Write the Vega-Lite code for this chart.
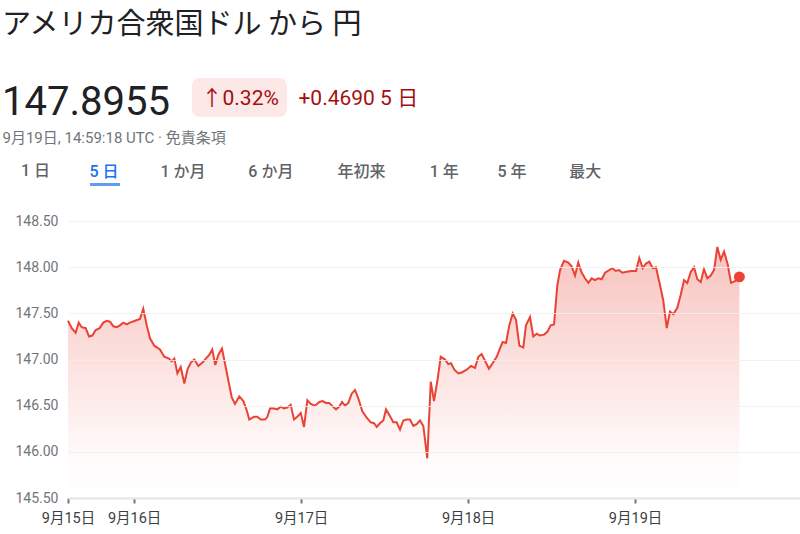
{
  "$schema": "https://vega.github.io/schema/vega-lite/v6.json",
  "width": 732,
  "height": 300,
  "autosize": {"type": "none"},
  "padding": {"left": 68, "top": 198, "right": 0, "bottom": 36},
  "background": "#ffffff",
  "title": {
    "text": "アメリカ合衆国ドル から 円",
    "subtitle": "147.8955",
    "anchor": "start",
    "frame": "bounds",
    "orient": "top",
    "font": "Noto Sans CJK JP",
    "fontSize": 29,
    "fontWeight": 400,
    "color": "#202124",
    "subtitleFont": "Roboto",
    "subtitleFontSize": 40,
    "subtitleFontWeight": 400,
    "subtitleColor": "#202124",
    "subtitlePadding": 43,
    "offset": -72.5
  },
  "datasets": {
    "fx": [
      {"t": "2025-09-15T14:30:00Z", "v": 147.42},
      {"t": "2025-09-15T15:02:00Z", "v": 147.34},
      {"t": "2025-09-15T15:36:00Z", "v": 147.29},
      {"t": "2025-09-15T16:02:00Z", "v": 147.40},
      {"t": "2025-09-15T16:28:00Z", "v": 147.35},
      {"t": "2025-09-15T17:03:00Z", "v": 147.34},
      {"t": "2025-09-15T17:31:00Z", "v": 147.25},
      {"t": "2025-09-15T18:00:00Z", "v": 147.26},
      {"t": "2025-09-15T18:29:00Z", "v": 147.32},
      {"t": "2025-09-15T19:03:00Z", "v": 147.34},
      {"t": "2025-09-15T19:34:00Z", "v": 147.40},
      {"t": "2025-09-15T20:04:00Z", "v": 147.42},
      {"t": "2025-09-15T20:32:00Z", "v": 147.41},
      {"t": "2025-09-15T21:01:00Z", "v": 147.36},
      {"t": "2025-09-15T21:30:00Z", "v": 147.35},
      {"t": "2025-09-15T21:58:00Z", "v": 147.37},
      {"t": "2025-09-15T22:27:00Z", "v": 147.40},
      {"t": "2025-09-15T22:56:00Z", "v": 147.38},
      {"t": "2025-09-15T23:25:00Z", "v": 147.40},
      {"t": "2025-09-16T00:08:00Z", "v": 147.42},
      {"t": "2025-09-16T00:51:00Z", "v": 147.44},
      {"t": "2025-09-16T01:19:00Z", "v": 147.55},
      {"t": "2025-09-16T01:49:00Z", "v": 147.37},
      {"t": "2025-09-16T02:17:00Z", "v": 147.23},
      {"t": "2025-09-16T02:54:00Z", "v": 147.15},
      {"t": "2025-09-16T03:43:00Z", "v": 147.11},
      {"t": "2025-09-16T04:20:00Z", "v": 147.03},
      {"t": "2025-09-16T05:01:00Z", "v": 147.01},
      {"t": "2025-09-16T05:24:00Z", "v": 146.98},
      {"t": "2025-09-16T05:47:00Z", "v": 147.01},
      {"t": "2025-09-16T06:13:00Z", "v": 146.85},
      {"t": "2025-09-16T06:42:00Z", "v": 146.92},
      {"t": "2025-09-16T07:13:00Z", "v": 146.74},
      {"t": "2025-09-16T07:42:00Z", "v": 146.90},
      {"t": "2025-09-16T08:11:00Z", "v": 146.97},
      {"t": "2025-09-16T08:39:00Z", "v": 147.00},
      {"t": "2025-09-16T09:14:00Z", "v": 146.93},
      {"t": "2025-09-16T09:52:00Z", "v": 146.97},
      {"t": "2025-09-16T10:26:00Z", "v": 147.02},
      {"t": "2025-09-16T10:48:00Z", "v": 147.05},
      {"t": "2025-09-16T11:14:00Z", "v": 147.11},
      {"t": "2025-09-16T11:40:00Z", "v": 146.94},
      {"t": "2025-09-16T12:06:00Z", "v": 147.05},
      {"t": "2025-09-16T12:38:00Z", "v": 147.12},
      {"t": "2025-09-16T13:19:00Z", "v": 146.86},
      {"t": "2025-09-16T14:02:00Z", "v": 146.59},
      {"t": "2025-09-16T14:30:00Z", "v": 146.52},
      {"t": "2025-09-16T15:07:00Z", "v": 146.60},
      {"t": "2025-09-16T15:42:00Z", "v": 146.55},
      {"t": "2025-09-16T16:11:00Z", "v": 146.45},
      {"t": "2025-09-16T16:33:00Z", "v": 146.35},
      {"t": "2025-09-16T17:14:00Z", "v": 146.38},
      {"t": "2025-09-16T17:42:00Z", "v": 146.38},
      {"t": "2025-09-16T18:12:00Z", "v": 146.35},
      {"t": "2025-09-16T18:49:00Z", "v": 146.35},
      {"t": "2025-09-16T19:09:00Z", "v": 146.38},
      {"t": "2025-09-16T19:32:00Z", "v": 146.47},
      {"t": "2025-09-16T20:06:00Z", "v": 146.47},
      {"t": "2025-09-16T20:35:00Z", "v": 146.46},
      {"t": "2025-09-16T21:04:00Z", "v": 146.49},
      {"t": "2025-09-16T21:33:00Z", "v": 146.47},
      {"t": "2025-09-16T22:01:00Z", "v": 146.48},
      {"t": "2025-09-16T22:30:00Z", "v": 146.51},
      {"t": "2025-09-16T22:59:00Z", "v": 146.35},
      {"t": "2025-09-16T23:27:00Z", "v": 146.38},
      {"t": "2025-09-16T23:57:00Z", "v": 146.42},
      {"t": "2025-09-17T00:25:00Z", "v": 146.27},
      {"t": "2025-09-17T00:54:00Z", "v": 146.56},
      {"t": "2025-09-17T01:23:00Z", "v": 146.52},
      {"t": "2025-09-17T02:00:00Z", "v": 146.50},
      {"t": "2025-09-17T02:37:00Z", "v": 146.54},
      {"t": "2025-09-17T03:06:00Z", "v": 146.55},
      {"t": "2025-09-17T03:35:00Z", "v": 146.53},
      {"t": "2025-09-17T04:03:00Z", "v": 146.53},
      {"t": "2025-09-17T04:33:00Z", "v": 146.49},
      {"t": "2025-09-17T05:01:00Z", "v": 146.46},
      {"t": "2025-09-17T05:29:00Z", "v": 146.49},
      {"t": "2025-09-17T05:53:00Z", "v": 146.54},
      {"t": "2025-09-17T06:19:00Z", "v": 146.50},
      {"t": "2025-09-17T06:47:00Z", "v": 146.53},
      {"t": "2025-09-17T07:16:00Z", "v": 146.63},
      {"t": "2025-09-17T07:45:00Z", "v": 146.67},
      {"t": "2025-09-17T08:13:00Z", "v": 146.58},
      {"t": "2025-09-17T08:48:00Z", "v": 146.44},
      {"t": "2025-09-17T09:26:00Z", "v": 146.37},
      {"t": "2025-09-17T10:00:00Z", "v": 146.32},
      {"t": "2025-09-17T10:29:00Z", "v": 146.31},
      {"t": "2025-09-17T10:52:00Z", "v": 146.27},
      {"t": "2025-09-17T11:20:00Z", "v": 146.31},
      {"t": "2025-09-17T11:49:00Z", "v": 146.34},
      {"t": "2025-09-17T12:12:00Z", "v": 146.46},
      {"t": "2025-09-17T12:41:00Z", "v": 146.40},
      {"t": "2025-09-17T13:15:00Z", "v": 146.32},
      {"t": "2025-09-17T13:44:00Z", "v": 146.32},
      {"t": "2025-09-17T14:13:00Z", "v": 146.24},
      {"t": "2025-09-17T14:41:00Z", "v": 146.34},
      {"t": "2025-09-17T15:11:00Z", "v": 146.35},
      {"t": "2025-09-17T15:39:00Z", "v": 146.35},
      {"t": "2025-09-17T16:08:00Z", "v": 146.28},
      {"t": "2025-09-17T16:37:00Z", "v": 146.30},
      {"t": "2025-09-17T17:05:00Z", "v": 146.34},
      {"t": "2025-09-17T17:34:00Z", "v": 146.28},
      {"t": "2025-09-17T18:08:00Z", "v": 145.93},
      {"t": "2025-09-17T18:38:00Z", "v": 146.76},
      {"t": "2025-09-17T19:06:00Z", "v": 146.55},
      {"t": "2025-09-17T19:35:00Z", "v": 146.77},
      {"t": "2025-09-17T20:04:00Z", "v": 147.03},
      {"t": "2025-09-17T20:41:00Z", "v": 147.00},
      {"t": "2025-09-17T21:09:00Z", "v": 146.95},
      {"t": "2025-09-17T21:33:00Z", "v": 146.96},
      {"t": "2025-09-17T22:01:00Z", "v": 146.89},
      {"t": "2025-09-17T22:36:00Z", "v": 146.85},
      {"t": "2025-09-17T23:05:00Z", "v": 146.86},
      {"t": "2025-09-17T23:48:00Z", "v": 146.89},
      {"t": "2025-09-18T00:25:00Z", "v": 146.93},
      {"t": "2025-09-18T01:00:00Z", "v": 146.91},
      {"t": "2025-09-18T01:28:00Z", "v": 147.03},
      {"t": "2025-09-18T01:57:00Z", "v": 147.06},
      {"t": "2025-09-18T02:32:00Z", "v": 146.97},
      {"t": "2025-09-18T03:00:00Z", "v": 146.90},
      {"t": "2025-09-18T03:37:00Z", "v": 146.97},
      {"t": "2025-09-18T04:07:00Z", "v": 147.03},
      {"t": "2025-09-18T04:35:00Z", "v": 147.12},
      {"t": "2025-09-18T04:58:00Z", "v": 147.19},
      {"t": "2025-09-18T05:27:00Z", "v": 147.18},
      {"t": "2025-09-18T05:55:00Z", "v": 147.37},
      {"t": "2025-09-18T06:25:00Z", "v": 147.50},
      {"t": "2025-09-18T06:53:00Z", "v": 147.43},
      {"t": "2025-09-18T07:22:00Z", "v": 147.15},
      {"t": "2025-09-18T07:56:00Z", "v": 147.13},
      {"t": "2025-09-18T08:19:00Z", "v": 147.37},
      {"t": "2025-09-18T08:54:00Z", "v": 147.46},
      {"t": "2025-09-18T09:22:00Z", "v": 147.25},
      {"t": "2025-09-18T09:52:00Z", "v": 147.28},
      {"t": "2025-09-18T10:20:00Z", "v": 147.26},
      {"t": "2025-09-18T10:55:00Z", "v": 147.27},
      {"t": "2025-09-18T11:23:00Z", "v": 147.30},
      {"t": "2025-09-18T11:52:00Z", "v": 147.37},
      {"t": "2025-09-18T12:21:00Z", "v": 147.38},
      {"t": "2025-09-18T12:49:00Z", "v": 147.80},
      {"t": "2025-09-18T13:13:00Z", "v": 147.97},
      {"t": "2025-09-18T13:47:00Z", "v": 148.07},
      {"t": "2025-09-18T14:24:00Z", "v": 148.05},
      {"t": "2025-09-18T14:53:00Z", "v": 148.01},
      {"t": "2025-09-18T15:22:00Z", "v": 147.91},
      {"t": "2025-09-18T15:50:00Z", "v": 148.05},
      {"t": "2025-09-18T16:20:00Z", "v": 147.94},
      {"t": "2025-09-18T16:48:00Z", "v": 147.88},
      {"t": "2025-09-18T17:17:00Z", "v": 147.83},
      {"t": "2025-09-18T17:46:00Z", "v": 147.88},
      {"t": "2025-09-18T18:14:00Z", "v": 147.86},
      {"t": "2025-09-18T18:43:00Z", "v": 147.88},
      {"t": "2025-09-18T19:12:00Z", "v": 147.87},
      {"t": "2025-09-18T19:41:00Z", "v": 147.94},
      {"t": "2025-09-18T20:18:00Z", "v": 147.97},
      {"t": "2025-09-18T20:44:00Z", "v": 147.99},
      {"t": "2025-09-18T21:13:00Z", "v": 147.96},
      {"t": "2025-09-18T21:41:00Z", "v": 147.97},
      {"t": "2025-09-18T22:10:00Z", "v": 147.94},
      {"t": "2025-09-18T22:48:00Z", "v": 147.95},
      {"t": "2025-09-18T23:31:00Z", "v": 147.96},
      {"t": "2025-09-19T00:08:00Z", "v": 147.96},
      {"t": "2025-09-19T00:36:00Z", "v": 148.10},
      {"t": "2025-09-19T01:06:00Z", "v": 147.99},
      {"t": "2025-09-19T01:34:00Z", "v": 148.04},
      {"t": "2025-09-19T02:03:00Z", "v": 148.06},
      {"t": "2025-09-19T02:32:00Z", "v": 147.99},
      {"t": "2025-09-19T03:00:00Z", "v": 148.00},
      {"t": "2025-09-19T03:29:00Z", "v": 147.84},
      {"t": "2025-09-19T04:03:00Z", "v": 147.64},
      {"t": "2025-09-19T04:33:00Z", "v": 147.34},
      {"t": "2025-09-19T05:01:00Z", "v": 147.52},
      {"t": "2025-09-19T05:30:00Z", "v": 147.49},
      {"t": "2025-09-19T06:04:00Z", "v": 147.56},
      {"t": "2025-09-19T06:33:00Z", "v": 147.70},
      {"t": "2025-09-19T07:02:00Z", "v": 147.86},
      {"t": "2025-09-19T07:30:00Z", "v": 147.83},
      {"t": "2025-09-19T08:00:00Z", "v": 147.95},
      {"t": "2025-09-19T08:28:00Z", "v": 148.00},
      {"t": "2025-09-19T08:57:00Z", "v": 147.87},
      {"t": "2025-09-19T09:26:00Z", "v": 147.84},
      {"t": "2025-09-19T09:54:00Z", "v": 147.98},
      {"t": "2025-09-19T10:23:00Z", "v": 147.88},
      {"t": "2025-09-19T10:52:00Z", "v": 147.91},
      {"t": "2025-09-19T11:21:00Z", "v": 147.97},
      {"t": "2025-09-19T11:49:00Z", "v": 148.22},
      {"t": "2025-09-19T12:18:00Z", "v": 148.08},
      {"t": "2025-09-19T12:47:00Z", "v": 148.17},
      {"t": "2025-09-19T13:19:00Z", "v": 148.03},
      {"t": "2025-09-19T13:47:00Z", "v": 147.83},
      {"t": "2025-09-19T14:22:00Z", "v": 147.85},
      {"t": "2025-09-19T14:59:18Z", "v": 147.8955}
    ]
  },
  "data": {"name": "fx"},
  "layer": [
    {
      "encoding": {
        "x": {
          "field": "t",
          "type": "temporal",
          "scale": {
            "type": "utc",
            "domain": [
              {"year": 2025, "month": 9, "date": 15, "hours": 14, "minutes": 30, "utc": true},
              {"year": 2025, "month": 9, "date": 19, "hours": 23, "minutes": 42, "utc": true}
            ]
          },
          "axis": {
            "values": [
              {"year": 2025, "month": 9, "date": 15, "hours": 14, "minutes": 30, "utc": true},
              {"year": 2025, "month": 9, "date": 16, "utc": true},
              {"year": 2025, "month": 9, "date": 17, "utc": true},
              {"year": 2025, "month": 9, "date": 18, "utc": true},
              {"year": 2025, "month": 9, "date": 19, "utc": true}
            ],
            "labelExpr": "utcFormat(datum.value, '%-m') + '月' + utcFormat(datum.value, '%-d') + '日'",
            "labelFont": "Roboto, Noto Sans CJK JP",
            "labelFontSize": 14.5,
            "labelColor": "#3c4043",
            "labelPadding": 8.5,
            "labelOverlap": false,
            "labelFlush": false,
            "labelBound": false,
            "grid": false,
            "domain": true,
            "domainColor": "#dadce0",
            "domainWidth": 2,
            "ticks": true,
            "tickColor": "#70757a",
            "tickWidth": 2,
            "tickSize": 5,
            "title": "9月19日, 14:59:18 UTC · 免責条項",
            "titleX": -66,
            "titleY": -361,
            "titleAlign": "left",
            "titleBaseline": "middle",
            "titleAngle": 0,
            "titleFont": "Roboto, Noto Sans CJK JP",
            "titleFontSize": 15,
            "titleFontWeight": 400,
            "titleColor": "#70757a"
          }
        },
        "y": {
          "field": "v",
          "type": "quantitative",
          "scale": {"domain": [145.5, 148.75], "zero": false, "nice": false},
          "axis": {
            "zindex": 2,
            "values": [145.5, 146, 146.5, 147, 147.5, 148, 148.5],
            "format": ".2f",
            "ticks": false,
            "domain": false,
            "grid": true,
            "gridColor": "#eeeff1",
            "gridWidth": 1,
            "gridOpacity": 0.8,
            "labelFont": "Roboto",
            "labelFontSize": 14,
            "labelColor": "#70757a",
            "labelPadding": 10,
            "title": "↑0.32%\u2002\u2005\u2006+0.4690 5 日",
            "titleX": 133,
            "titleY": -100,
            "titleAlign": "left",
            "titleBaseline": "middle",
            "titleAngle": 0,
            "titleFont": "Roboto, Noto Sans CJK JP",
            "titleFontSize": 21,
            "titleFontWeight": 400,
            "titleColor": "#a50e0e"
          }
        }
      },
      "layer": [
        {
          "mark": {
            "type": "area",
            "line": false,
            "interpolate": "linear",
            "fill": {
              "gradient": "linear",
              "x1": 0, "y1": 0, "x2": 0, "y2": 1,
              "stops": [
                {"offset": 0, "color": "rgba(234,67,53,0.32)"},
                {"offset": 0.85, "color": "rgba(234,67,53,0.02)"},
                {"offset": 1, "color": "rgba(234,67,53,0)"}
              ]
            }
          },
          "encoding": {"y2": {"datum": 145.5}}
        },
        {
          "mark": {"type": "line", "color": "#ea4335", "strokeWidth": 2, "interpolate": "linear"}
        }
      ]
    },
    {
      "transform": [
        {"window": [{"op": "row_number", "as": "rn"}], "sort": [{"field": "t", "order": "descending"}]},
        {"filter": "datum.rn == 1"}
      ],
      "mark": {"type": "point", "filled": true, "shape": "circle", "size": 120, "opacity": 1},
      "encoding": {
        "color": {
          "datum": "1 日",
          "type": "nominal",
          "scale": {"range": ["#ea4335"]},
          "legend": {
            "orient": "none",
            "legendX": -63,
            "legendY": -35,
            "title": null,
            "padding": 0,
            "symbolSize": 0,
            "symbolOpacity": 0,
            "symbolStrokeWidth": 0,
            "labelOffset": 0,
            "labelFont": "Roboto, Noto Sans CJK JP",
            "labelFontSize": 16,
            "labelFontWeight": 500,
            "labelColor": "#5f6368"
          }
        },
        "x": {
          "field": "t",
          "type": "temporal",
          "scale": {
            "type": "utc",
            "domain": [
              {"year": 2025, "month": 9, "date": 15, "hours": 14, "minutes": 30, "utc": true},
              {"year": 2025, "month": 9, "date": 19, "hours": 23, "minutes": 42, "utc": true}
            ]
          },
          "axis": {
            "orient": "top",
            "labels": false,
            "ticks": false,
            "domain": false,
            "grid": false,
            "title": "1 か月\u3000\u3000 \u2005\u20066 か月\u3000\u3000 \u2002年初来\u3000\u3000 \u20021 年\u3000\u3000 \u20065 年\u3000\u3000 \u2005\u2006最大",
            "titleX": 92,
            "titleY": -34.5,
            "titleAlign": "left",
            "titleBaseline": "top",
            "titleAngle": 0,
            "titleFont": "Roboto, Noto Sans CJK JP",
            "titleFontSize": 16,
            "titleFontWeight": 500,
            "titleColor": "#5f6368"
          }
        },
        "y": {
          "field": "v",
          "type": "quantitative",
          "scale": {"domain": [145.5, 148.75], "zero": false, "nice": false},
          "axis": {
            "orient": "right",
            "labels": false,
            "ticks": false,
            "domain": false,
            "grid": false,
            "title": "5 日",
            "titleX": -711,
            "titleY": -34.5,
            "titleAlign": "left",
            "titleBaseline": "top",
            "titleAngle": 0,
            "titleFont": "Roboto, Noto Sans CJK JP",
            "titleFontSize": 16,
            "titleFontWeight": 500,
            "titleColor": "#1a73e8"
          }
        }
      }
    },
    {
      "transform": [{"filter": "false"}],
      "mark": {"type": "point", "filled": true, "color": "#fce8e6"},
      "encoding": {
        "opacity": {
          "datum": "badge",
          "type": "ordinal",
          "scale": {"range": [1]},
          "legend": {
            "orient": "none",
            "legendX": 124,
            "legendY": -148,
            "zindex": 0,
            "title": null,
            "padding": 0,
            "symbolType": "M-0.832,-0.41L0.832,-0.41A0.168,0.168,0,0,1,1,-0.242L1,0.242A0.168,0.168,0,0,1,0.832,0.41L-0.832,0.41A0.168,0.168,0,0,1,-1,0.242L-1,-0.242A0.168,0.168,0,0,1,-0.832,-0.41Z",
            "symbolSize": 9025,
            "symbolStrokeWidth": 0,
            "labelExpr": "''",
            "labelOffset": 0
          }
        }
      }
    },
    {
      "transform": [{"filter": "false"}],
      "mark": {"type": "point", "filled": true, "color": "#1a73e8"},
      "encoding": {
        "shape": {
          "datum": "underline",
          "type": "nominal",
          "scale": {"range": ["M-1,-0.1L1,-0.1L1,0.1L-1,0.1Z"]},
          "legend": {
            "orient": "none",
            "legendX": 22,
            "legendY": -28.5,
            "title": null,
            "padding": 0,
            "symbolSize": 900,
            "symbolStrokeWidth": 0,
            "labelExpr": "''",
            "labelOffset": 0
          }
        }
      }
    },
    {
      "transform": [{"filter": "false"}],
      "mark": {"type": "point", "filled": true, "color": "#dadce0"},
      "encoding": {
        "fillOpacity": {
          "datum": "separator",
          "type": "ordinal",
          "scale": {"range": [1]},
          "legend": {
            "orient": "none",
            "legendX": 330,
            "legendY": -147.5,
            "title": null,
            "padding": 0,
            "symbolType": "M-200,-0.25L200,-0.25L200,0.25L-200,0.25Z",
            "symbolSize": 16,
            "symbolOpacity": 1,
            "symbolFillColor": "#dadce0",
            "symbolStrokeWidth": 0,
            "labelExpr": "''",
            "labelOffset": 0
          }
        }
      }
    }
  ],
  "resolve": {"scale": {"x": "independent", "y": "independent"}},
  "config": {"view": {"stroke": null}}
}
